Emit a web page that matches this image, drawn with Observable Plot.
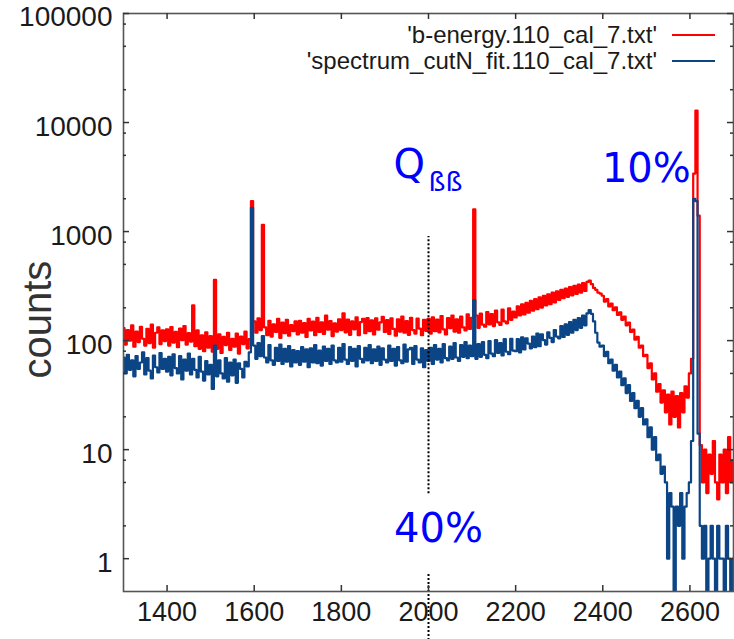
<!DOCTYPE html>
<html><head><meta charset="utf-8">
<script src="https://cdn.jsdelivr.net/npm/d3@7"></script>
<script src="https://cdn.jsdelivr.net/npm/@observablehq/plot@0.6"></script>
<style>
body{margin:0;background:#fff;}
#wrap{width:734px;height:639px;}
</style></head><body><div id="wrap"></div>
<script>
// energy bins (keV), 5 keV wide
const binStart = 1300, binWidth = 5;
// 'b-energy.110_cal_7.txt' counts, rows of 100 keV
const redCounts = [
130, 92, 125, 100, 138, 88, 121, 97, 134, 104, 90, 128, 95, 140, 86, 118, 132, 93, 124, 99,
127, 90, 133, 96, 120, 87, 129, 101, 136, 92, 117, 98, 210, 89, 124, 84, 112, 80, 119, 86,
110, 79, 360, 84, 114, 77, 108, 91, 118, 82, 104, 88, 116, 76, 109, 93, 121, 85, 103, 1900,
150, 118, 160, 125, 1150, 132, 112, 152, 109, 141, 120, 158, 106, 146, 117, 155, 111, 139, 122, 150,
114, 152, 118, 145, 108, 158, 124, 149, 112, 162, 120, 147, 115, 170, 126, 151, 110, 144, 121, 157,
125, 178, 119, 156, 113, 150, 127, 163, 112, 148, 158, 117, 161, 122, 153, 114, 160, 126, 147, 165,
120, 154, 115, 160, 128, 111, 157, 121, 166, 118, 151, 113, 162, 125, 116, 159, 129, 112, 155, 123,
158, 116, 163, 122, 156, 119, 168, 127, 114, 161, 130, 170, 121, 157, 118, 166, 132, 124, 174, 128,
162, 1600, 170, 131, 177, 140, 134, 183, 141, 175, 136, 188, 147, 139, 192, 150, 144, 198, 155, 185,
163, 206, 170, 215, 174, 222, 180, 231, 188, 240, 194, 249, 201, 258, 210, 266, 216, 275, 224, 283,
236, 292, 245, 300, 252, 310, 260, 318, 268, 326, 276, 336, 285, 345, 355, 330, 304, 292, 276, 270,
258, 228, 240, 206, 218, 190, 202, 172, 182, 155, 166, 138, 146, 120, 126, 102, 108, 86, 90, 72,
74, 56, 62, 44, 50, 34, 40, 27, 35, 22, 32, 17, 34, 20, 31, 16, 33, 22, 38, 30,
50, 68, 3400, 12900, 1400, 11, 5, 10, 4, 9, 6, 12, 5, 3.5, 9, 5, 10, 4, 13, 5, 8
];
// 'spectrum_cutN_fit.110_cal_7.txt' counts
const blueCounts = [
70, 50, 74, 54, 66, 47, 72, 55, 63, 78, 49, 69, 53, 45, 73, 57, 51, 77, 55, 68,
52, 71, 48, 75, 56, 50, 72, 44, 67, 53, 76, 49, 68, 54, 46, 71, 52, 43, 65, 49,
60, 36, 90, 47, 66, 50, 45, 69, 42, 63, 48, 67, 41, 62, 55, 46, 64, 58, 78, 1650,
90, 68, 95, 72, 110, 70, 63, 91, 66, 60, 86, 65, 92, 61, 84, 64, 89, 58, 82, 63,
80, 60, 87, 64, 83, 57, 85, 63, 91, 62, 81, 59, 88, 65, 84, 61, 90, 66, 63, 86,
64, 93, 67, 61, 87, 65, 84, 58, 89, 68, 63, 86, 66, 91, 62, 83, 65, 88, 60, 85,
67, 63, 90, 65, 84, 59, 87, 66, 62, 92, 64, 83, 86, 61, 89, 67, 63, 85, 57, 82,
65, 86, 61, 91, 67, 84, 63, 93, 69, 66, 88, 68, 95, 70, 65, 91, 71, 97, 69, 90,
72, 235, 68, 93, 71, 97, 74, 69, 99, 76, 72, 101, 77, 95, 73, 103, 79, 75, 104, 81,
80, 103, 78, 107, 83, 105, 94, 85, 109, 87, 116, 89, 114, 101, 92, 119, 106, 97, 125, 109,
105, 136, 108, 141, 113, 148, 118, 155, 125, 161, 131, 170, 138, 178, 190, 176, 150, 118, 96, 88,
90, 72, 79, 62, 67, 53, 60, 46, 52, 39, 45, 33, 39, 28, 33, 24, 28, 20, 24, 17,
19, 13, 16, 10, 13, 8, 9, 6, 7, 5, 1, 4, 3, 0, 3, 2, 4, 1, 3, 4,
5, 12, 2000, 1900, 14, 2, 1, 2, 0, 1, 2, 1, 0, 2, 1, 1, 0, 2, 1, 0, 1
];
const seriesNames = ["'b-energy.110_cal_7.txt'", "'spectrum_cutN_fit.110_cal_7.txt'"];
const seriesColors = ["#ff0000", "#0b4586"];
const xTicks = [1400, 1600, 1800, 2000, 2200, 2400, 2600];
const yTicks = [1, 10, 100, 1000, 10000, 100000];
const yMinor = [2, 5, 8, 20, 50, 80, 200, 500, 800, 2000, 5000, 8000, 20000, 50000, 80000];
const yLabel = "counts";
// Q-value marker at 2000 keV (broken behind the 40% box)
const qLine = [{x: 2000, y1: 3.95, y2: 900}, {x: 2000, y1: 0.15, y2: 0.745}];
const bigNotes = [
  {text: "Q", x: 1956, y: 4030},
  {text: "10%", x: 2500, y: 3700},
  {text: "40%", x: 2023, y: 1.88}
];
const subNotes = [{text: "ßß", x: 2039, y: 2810}];

const toSeries = counts => counts.map((v, i) => ({e: binStart + i * binWidth, v: Math.max(v, 0.2)}));
const red = toSeries(redCounts);
const blue = toSeries(blueCounts);

const W = 734, H = 639, mL = 123, mR = 1, mT = 13, mB = 48;
const pw = W - mL - mR, ph = H - mT - mB;

const plot = Plot.plot({
  width: W, height: H,
  marginLeft: mL, marginRight: mR, marginTop: mT, marginBottom: mB,
  style: {fontFamily: '"Liberation Sans", Arial, sans-serif', fontSize: "27px", background: "white", color: "#1a1a1a"},
  x: {domain: [1300, 2700], label: null},
  y: {type: "log", domain: [0.5, 100000], label: null},
  marks: [
    Plot.line(red, {x: "e", y: "v", curve: "step", stroke: seriesColors[0], strokeWidth: 2.2, clip: true}),
    Plot.line(blue, {x: "e", y: "v", curve: "step", stroke: seriesColors[1], strokeWidth: 2.2, clip: true}),
    Plot.ruleX(qLine, {x: "x", y1: "y1", y2: "y2", stroke: "black", strokeWidth: 2, strokeDasharray: "2,2"}),
    Plot.frame({stroke: "#555", strokeWidth: 1.6}),
    Plot.tickX(xTicks, {x: d => d, insetTop: ph - 6, stroke: "#333", strokeWidth: 1.5}),
    Plot.tickX(xTicks, {x: d => d, insetBottom: ph - 6, stroke: "#333", strokeWidth: 1.5}),
    Plot.tickY(yTicks, {y: d => d, insetRight: pw - 6, stroke: "#333", strokeWidth: 1.5}),
    Plot.tickY(yTicks, {y: d => d, insetLeft: pw - 6, stroke: "#333", strokeWidth: 1.5}),
    Plot.tickY(yMinor, {y: d => d, insetRight: pw - 3, stroke: "#333", strokeWidth: 1.5}),
    Plot.tickY(yMinor, {y: d => d, insetLeft: pw - 3, stroke: "#333", strokeWidth: 1.5}),
    Plot.axisX({ticks: xTicks, tickSize: 0, tickPadding: 10, tickFormat: "d", label: null, fontSize: 27}),
    Plot.axisY({ticks: yTicks, tickSize: 0, tickPadding: 11, tickFormat: "d", label: null, fontSize: 28, dy: 4}),
    Plot.text([yLabel], {text: d => d, frameAnchor: "left", rotate: -90, dx: -85, dy: 76, fontSize: 40, fill: "#333"}),
    Plot.text(bigNotes, {x: "x", y: "y", text: "text", fontSize: 40, fontFamily: "DejaVu Sans", fill: "#0000ff"}),
    Plot.text(subNotes, {x: "x", y: "y", text: "text", fontSize: 27, fontFamily: "DejaVu Sans", fill: "#0000ff"})
  ]
});

// legend (inside the frame, top right)
const svg = d3.select(plot);
const leg = svg.append("g").attr("font-family", '"Liberation Sans", Arial, sans-serif').attr("font-size", 24);
seriesNames.forEach((name, i) => {
  leg.append("text").attr("x", 657).attr("y", 43 + i * 26).attr("text-anchor", "end").attr("fill", "#1a1a1a").text(name);
  leg.append("line").attr("x1", 672).attr("x2", 715).attr("y1", 35 + i * 26).attr("y2", 35 + i * 26)
    .attr("stroke", seriesColors[i]).attr("stroke-width", 2);
});

document.getElementById("wrap").appendChild(plot);
</script>
</body></html>
